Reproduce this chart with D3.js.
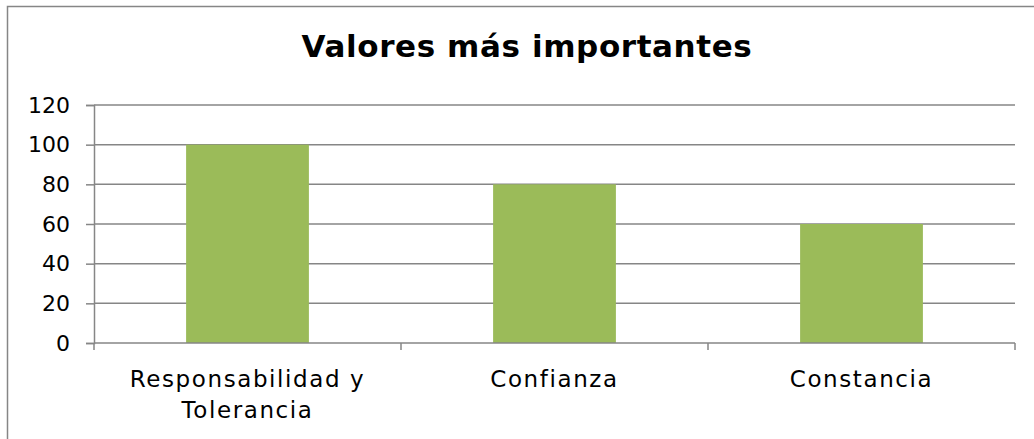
<!DOCTYPE html>
<html>
<head>
<meta charset="utf-8">
<script src="https://cdn.jsdelivr.net/npm/d3@7"></script>
<style>
  body { margin: 0; background: #fff; }
  svg { display: block; font-family: "Century Gothic", "DejaVu Sans", sans-serif; }
</style>
</head>
<body>
<svg width="1034" height="439"></svg>
<script>
const title = "Valores más importantes";
const categories = [["Responsabilidad y", "Tolerancia"], ["Confianza"], ["Constancia"]];
const values = [100, 80, 60];
const yTicks = [0, 20, 40, 60, 80, 100, 120];

const svg = d3.select("svg");
const margin = { left: 94, right: 19, top: 105, bottom: 96 };
const width = 1034 - margin.left - margin.right;
const height = 439 - margin.top - margin.bottom;

// outer chart border (cropped on right and bottom)
svg.append("rect")
  .attr("x", 7.5).attr("y", 6.5)
  .attr("width", 1040).attr("height", 450)
  .attr("fill", "none")
  .attr("stroke", "#868686")
  .attr("stroke-width", 1.5);

svg.append("text")
  .attr("x", 527).attr("y", 57)
  .attr("text-anchor", "middle")
  .attr("font-size", 31)
  .attr("font-weight", "bold")
  .attr("letter-spacing", 0.6)
  .text(title);

const g = svg.append("g").attr("transform", `translate(${margin.left},${margin.top})`);

const x = d3.scaleBand()
  .domain(categories.map((d, i) => i))
  .range([0, width])
  .paddingInner(0.6)
  .paddingOuter(0.3);

const y = d3.scaleLinear().domain([0, 120]).range([height, 0]);

// gridlines
g.selectAll("line.grid")
  .data(yTicks.filter(d => d > 0))
  .enter().append("line")
  .attr("class", "grid")
  .attr("x1", 0).attr("x2", width)
  .attr("y1", d => y(d)).attr("y2", d => y(d))
  .attr("stroke", "#868686")
  .attr("stroke-width", 1.5);

// bars
g.selectAll("rect.bar")
  .data(values)
  .enter().append("rect")
  .attr("class", "bar")
  .attr("x", (d, i) => x(i))
  .attr("y", d => y(d))
  .attr("width", x.bandwidth())
  .attr("height", d => height - y(d))
  .attr("fill", "#9BBB59");

// y axis
const yAxis = g.append("g")
  .call(d3.axisLeft(y).tickValues(yTicks).tickSize(8).tickPadding(16));
yAxis.select(".domain").attr("stroke", "#868686").attr("stroke-width", 1.5);
yAxis.selectAll(".tick line").attr("stroke", "#868686").attr("stroke-width", 1.5);
yAxis.selectAll(".tick text")
  .attr("font-size", 22).attr("fill", "#000")
  .attr("font-family", "'Century Gothic', 'DejaVu Sans', sans-serif");

// x axis: baseline plus category boundary ticks
const xg = g.append("g").attr("transform", `translate(0,${height})`);
xg.append("line")
  .attr("x1", 0).attr("x2", width)
  .attr("stroke", "#868686").attr("stroke-width", 1.5);
const bounds = d3.range(categories.length + 1).map(i => i * width / categories.length);
xg.selectAll("line.tk")
  .data(bounds)
  .enter().append("line")
  .attr("class", "tk")
  .attr("x1", d => d).attr("x2", d => d)
  .attr("y1", 0).attr("y2", 7)
  .attr("stroke", "#868686").attr("stroke-width", 1.5);

const labels = xg.selectAll("text.cat")
  .data(categories)
  .enter().append("text")
  .attr("class", "cat")
  .attr("text-anchor", "middle")
  .attr("font-size", 23)
  .attr("letter-spacing", 1.6)
  .attr("transform", (d, i) => `translate(${x(i) + x.bandwidth() / 2},44)`);
labels.selectAll("tspan")
  .data(d => d)
  .enter().append("tspan")
  .attr("x", 0)
  .attr("dy", (d, i) => i === 0 ? 0 : 31)
  .text(d => d);
</script>
</body>
</html>
